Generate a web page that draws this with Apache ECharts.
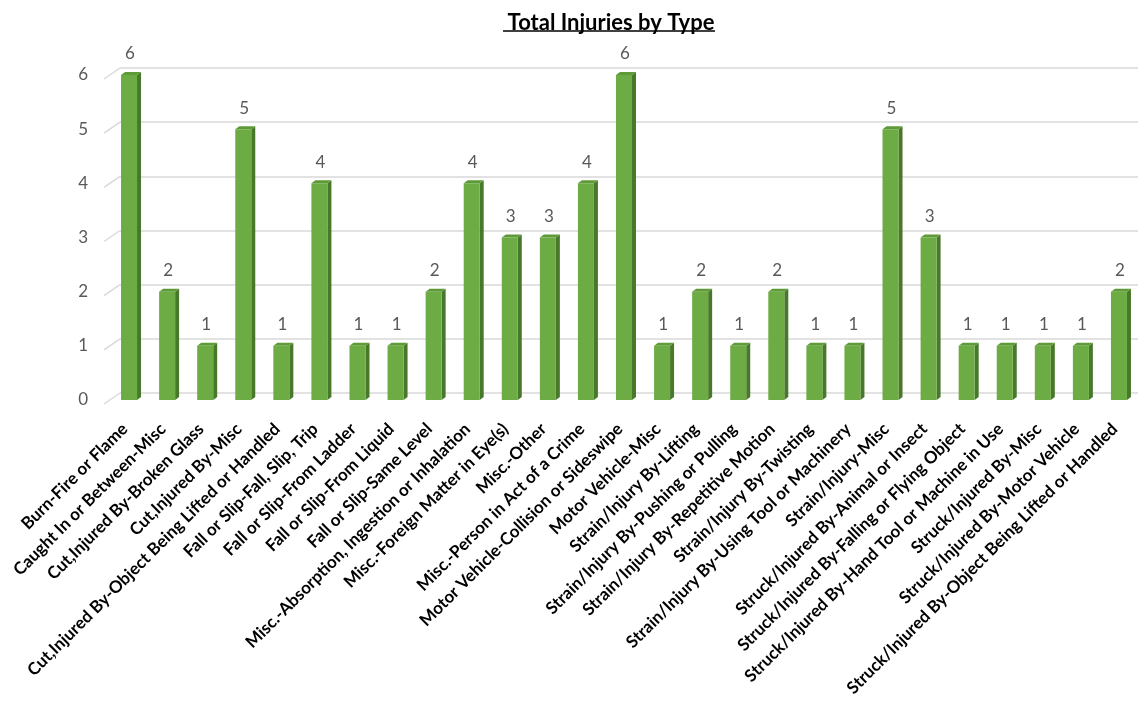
<!DOCTYPE html>
<html>
<head>
<meta charset="utf-8">
<title>Total Injuries by Type</title>
<script src="https://cdn.jsdelivr.net/npm/echarts@6/dist/echarts.min.js"></script>
<style>
  html, body { margin: 0; padding: 0; background: #ffffff; }
  #chart { width: 1138px; height: 702px; }
</style>
</head>
<body>
<div id="chart"></div>
<script>
// Injury types and counts
const categories = [
  'Burn-Fire or Flame',
  'Caught In or Between-Misc',
  'Cut,Injured By-Broken Glass',
  'Cut,Injured By-Misc',
  'Cut,Injured By-Object Being Lifted or Handled',
  'Fall or Slip-Fall, Slip, Trip',
  'Fall or Slip-From Ladder',
  'Fall or Slip-From Liquid',
  'Fall or Slip-Same Level',
  'Misc.-Absorption, Ingestion or Inhalation',
  'Misc.-Foreign Matter in Eye(s)',
  'Misc.-Other',
  'Misc.-Person in Act of a Crime',
  'Motor Vehicle-Collision or Sideswipe',
  'Motor Vehicle-Misc',
  'Strain/Injury By-Lifting',
  'Strain/Injury By-Pushing or Pulling',
  'Strain/Injury By-Repetitive Motion',
  'Strain/Injury By-Twisting',
  'Strain/Injury By-Using Tool or Machinery',
  'Strain/Injury-Misc',
  'Struck/Injured By-Animal or Insect',
  'Struck/Injured By-Falling or Flying Object',
  'Struck/Injured By-Hand Tool or Machine in Use',
  'Struck/Injured By-Misc',
  'Struck/Injured By-Motor Vehicle',
  'Struck/Injured By-Object Being Lifted or Handled'
];
const injuries = [6, 2, 1, 5, 1, 4, 1, 1, 2, 4, 3, 3, 4, 6, 1, 2, 1, 2, 1, 1, 5, 3, 1, 1, 1, 1, 2];
const yTicks = [0, 1, 2, 3, 4, 5, 6];

const chart = echarts.init(document.getElementById('chart'), null, { renderer: 'canvas' });

// colours of the three visible faces of each column
const FRONT = '#6dab45';
const SIDE = '#48782a';
const TOP = '#5e9a38';
const DEPTH_X = 4, DEPTH_Y = 3, HALF_W = 8;
const FONT = 'Lato';

function renderColumn(params, api) {
  const i = api.value(0);
  const v = api.value(1);
  const top = api.coord([i, v]);
  const base = api.coord([i, 0]);
  const x0 = top[0] - HALF_W, x1 = top[0] + HALF_W;
  const yt = top[1], yb = base[1];
  return {
    type: 'group',
    children: [
      {
        type: 'polygon',
        shape: { points: [[x1, yt], [x1 + DEPTH_X, yt - DEPTH_Y], [x1 + DEPTH_X, yb - DEPTH_Y], [x1, yb]] },
        style: { fill: SIDE }
      },
      {
        type: 'polygon',
        shape: { points: [[x0, yt], [x0 + DEPTH_X, yt - DEPTH_Y], [x1 + DEPTH_X, yt - DEPTH_Y], [x1, yt]] },
        style: { fill: TOP }
      },
      {
        type: 'rect',
        shape: { x: x0, y: yt, width: x1 - x0, height: yb - yt },
        style: { fill: FRONT }
      },
      {
        type: 'text',
        style: {
          text: String(v),
          x: top[0] + 1,
          y: yt - 21,
          align: 'center',
          verticalAlign: 'middle',
          fill: '#595959',
          font: '17px ' + FONT
        }
      }
    ]
  };
}

// short floor diagonals running from each back gridline toward the front
function renderFloorEdge(params, api) {
  const p = api.coord([0, api.value(0)]);
  const x = params.coordSys.x;
  return {
    type: 'line',
    shape: { x1: x, y1: p[1], x2: x - 16, y2: p[1] + 11 },
    style: { stroke: '#d9d9d9', lineWidth: 1.5 }
  };
}

const option = {
  backgroundColor: '#ffffff',
  animation: false,
  title: {
    text: 'Total Injuries by Type',
    left: 606,
    top: 7,
    textAlign: 'center',
    textStyle: { fontFamily: FONT, fontWeight: 'bold', fontSize: 22, color: '#000000' }
  },
  graphic: [
    { type: 'line', shape: { x1: 503, y1: 31, x2: 715, y2: 31 }, style: { stroke: '#000000', lineWidth: 1.5 } }
  ],
  grid: [
    // back wall with gridlines
    { left: 120, right: 0, top: 68, bottom: 309 },
    // front plane where the columns stand
    { left: 110, right: -2, top: 75, bottom: 302 }
  ],
  xAxis: [
    { type: 'category', gridIndex: 0, data: categories, show: false },
    {
      type: 'category',
      gridIndex: 1,
      data: categories,
      boundaryGap: true,
      axisLine: { show: false },
      axisTick: { show: false },
      axisLabel: {
        interval: 0,
        rotate: 45,
        margin: 22,
        padding: [0, 6, 0, 0],
        color: '#000000',
        fontFamily: FONT,
        fontWeight: 'bold',
        fontSize: 17
      }
    }
  ],
  yAxis: [
    {
      type: 'value',
      gridIndex: 0,
      min: 0,
      max: 6,
      interval: 1,
      axisLine: { show: false },
      axisTick: { show: false },
      axisLabel: { show: false },
      splitLine: { lineStyle: { color: '#d9d9d9', width: 1.5 } }
    },
    {
      type: 'value',
      gridIndex: 1,
      min: 0,
      max: 6,
      interval: 1,
      axisLine: { show: false },
      axisTick: { show: false },
      splitLine: { show: false },
      axisLabel: {
        margin: 22,
        color: '#595959',
        fontFamily: FONT,
        fontSize: 17,
        padding: [8, 0, 0, 0],
        formatter: (val) => String(val)
      }
    }
  ],
  series: [
    {
      type: 'custom',
      xAxisIndex: 0,
      yAxisIndex: 0,
      renderItem: renderFloorEdge,
      data: yTicks.map((t) => [t]),
      encode: { y: 0 },
      silent: true,
      z: 1
    },
    {
      type: 'custom',
      name: 'Injuries',
      xAxisIndex: 1,
      yAxisIndex: 1,
      renderItem: renderColumn,
      data: injuries.map((v, i) => [i, v]),
      encode: { x: 0, y: 1 },
      z: 2
    }
  ]
};

chart.setOption(option);
</script>
</body>
</html>
